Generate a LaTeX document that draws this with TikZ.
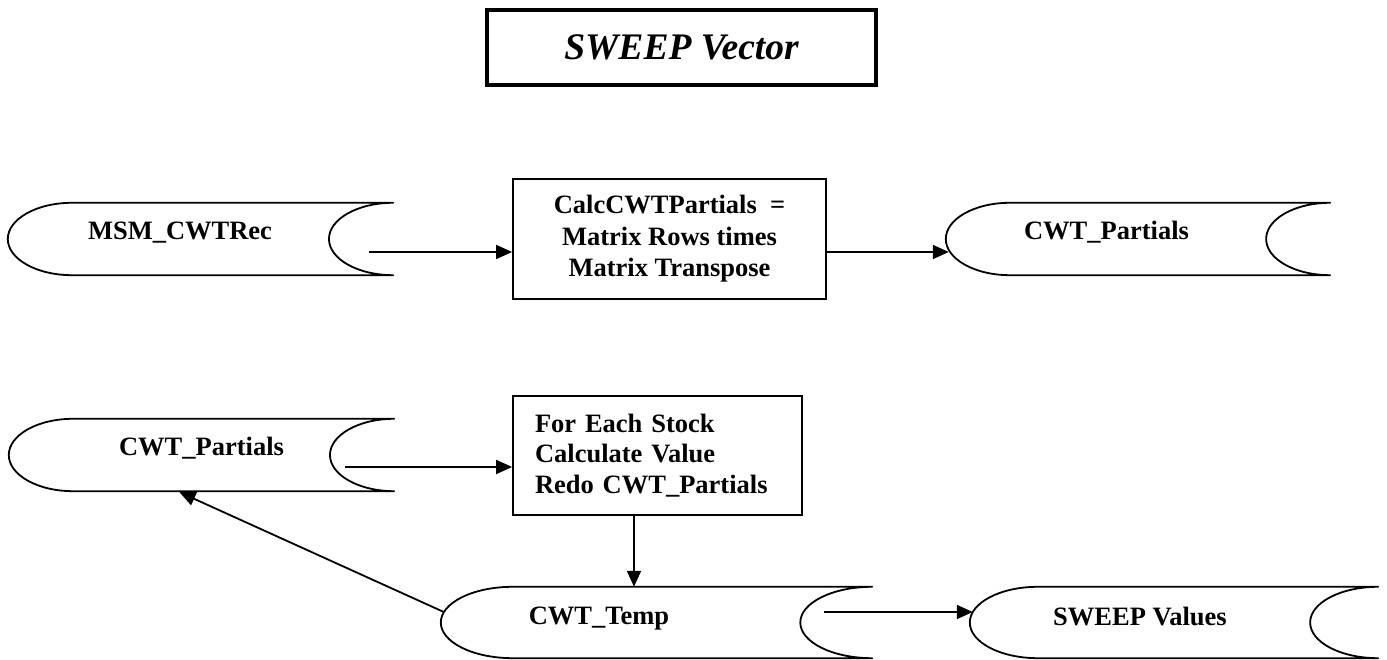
\documentclass[tikz,border=0pt]{standalone}
\usepackage{fontspec}
\setmainfont{Liberation Serif}
\usetikzlibrary{arrows.meta,calc}

\tikzset{
  outline/.style={draw=black, line width=1.8pt, line join=round},
  store/.style={draw=none, inner sep=0pt},
  lbl/.style={inner sep=0pt, anchor=base, font=\bfseries\fontsize{26.5}{31.5}\selectfont},
  proc/.style={draw=black, line width=1.8pt, inner sep=0pt},
  titlebox/.style={draw=black, line width=4.5pt, inner sep=0pt,
    font=\bfseries\itshape\fontsize{37.5}{44}\selectfont},
  conn/.style={draw=black, line width=1.8pt, -{Triangle[length=16pt,width=14pt]}},
}

% stored-data outline: convex arc on the left, concave arc on the right,
% each arc one sixth of the width deep
\newcommand\storeoutline[1]{%
  \draw[outline] let \p1=(#1.north west), \p2=(#1.south east),
    \n1={(\x2-\x1)/6}, \n2={(\y1-\y2)/2} in
    ({\x1+\n1*1pt},\y1) -- (\x2,\y1)
    arc[start angle=90, end angle=270, x radius=\n1, y radius=\n2]
    -- ({\x1+\n1*1pt},\y2)
    arc[start angle=270, end angle=90, x radius=\n1, y radius=\n2]
    -- cycle;}

\begin{document}
\begin{tikzpicture}[x=1pt,y=1pt]
\useasboundingbox (0,0) rectangle (1387,660);

% title
\node[titlebox, minimum width=389pt, minimum height=75pt] (T) at (681.5,612.5) {SWEEP Vector};

% stored data frames
\node[store, minimum width=385pt, minimum height=72pt] (S1) at (200.5,421) {};
\node[store, minimum width=384pt, minimum height=72pt] (S3) at (1138,421) {};
\node[store, minimum width=385pt, minimum height=72pt] (S4) at (201.5,205) {};
\node[store, minimum width=431pt, minimum height=71pt] (S5) at (656.5,37.5) {};
\node[store, minimum width=408pt, minimum height=71pt] (S6) at (1174,37.5) {};
\storeoutline{S1}
\storeoutline{S3}
\storeoutline{S4}
\storeoutline{S5}
\storeoutline{S6}

% stored data labels
\node[lbl] (S1t) at (180,420) {MSM\_CWTRec};
\node[lbl] (S3t) at (1106.5,420) {CWT\_Partials};
\node[lbl] (S4t) at (201.5,204) {CWT\_Partials};
\node[lbl] (S5t) at (599,35) {CWT\_Temp};
\node[lbl] (S6t) at (1140,34) {SWEEP Values};

% process boxes
\node[proc, minimum width=313pt, minimum height=120pt, align=center,
  font=\bfseries\fontsize{26.5}{31.5}\selectfont] (B1) at (669.5,421)
  {CalcCWTPartials\ \ =\\Matrix Rows times\\Matrix Transpose};
\node[proc, text width=245pt, inner xsep=22pt, minimum height=119pt, align=left,
  font=\bfseries\fontsize{26.5}{30.5}\selectfont] (B2) at (657.5,204.5)
  {For Each Stock\\Calculate Value\\Redo CWT\_Partials};

% connectors
\draw[conn] ([shift={(-24pt,-13pt)}]S1.east) -- ([yshift=-13pt]B1.west);
\draw[conn] ([yshift=-13pt]B1.east) -- ([shift={(3pt,-13pt)}]S3.west);
\draw[conn] ([shift={(-49pt,-12pt)}]S4.east) -- ([yshift=-11.5pt]B2.west);
\draw[conn] ([xshift=-23.5pt]B2.south) -- ([xshift=-23.5pt]B2.south |- S5.north);
\draw[conn] ([shift={(-48pt,10.5pt)}]S5.east) -- ([shift={(3pt,10.5pt)}]S6.west);
\draw[conn] ([shift={(3pt,10.5pt)}]S5.west) -- ([shift={(-22pt,-1pt)}]S4.south);
\end{tikzpicture}
\end{document}
